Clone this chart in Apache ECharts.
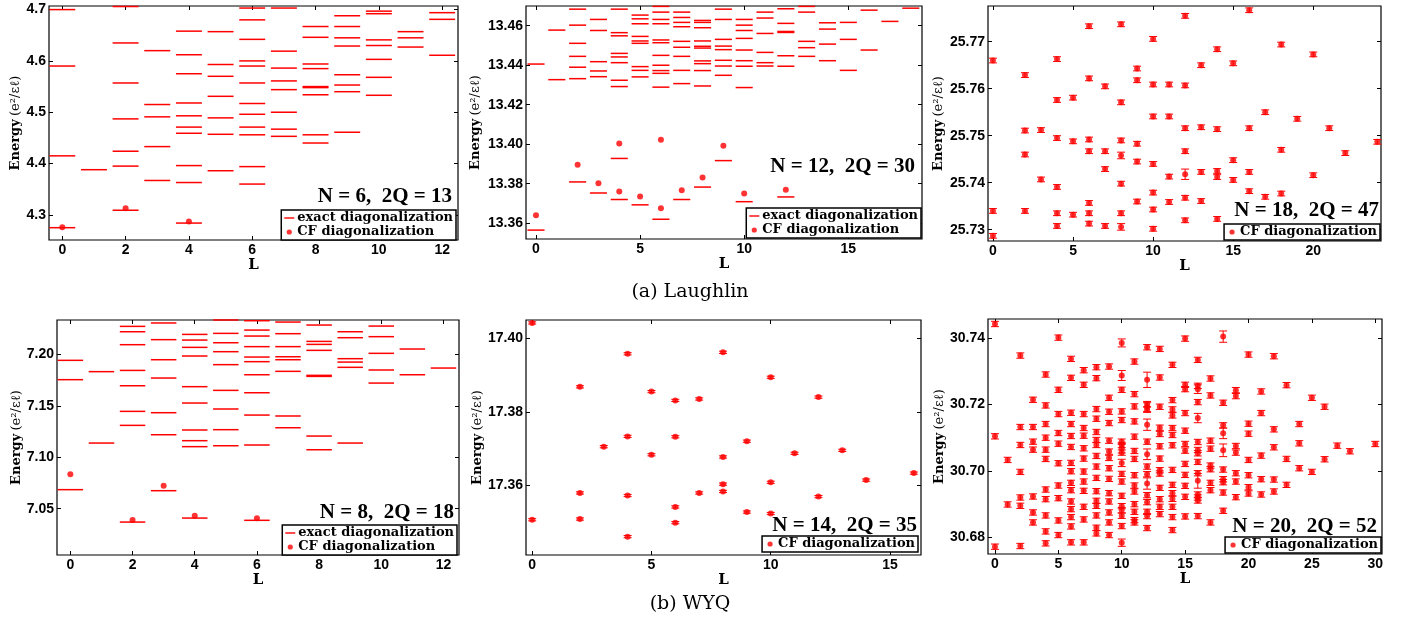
<!DOCTYPE html>
<html><head><meta charset="utf-8">
<script src="https://cdn.jsdelivr.net/npm/echarts@6/dist/echarts.min.js"></script>
<style>html,body{margin:0;padding:0;background:#fff}#c{width:1408px;height:620px}</style>
</head><body><div id="c"></div>
<script>
// ================= DATA =================
// (a) Laughlin, N = 6, 2Q = 13 — exact levels, one list per L = 0..12
const laughlinN6Exact = [
  [4.700, 4.590, 4.415, 4.275],
  [4.388],
  [4.706, 4.635, 4.557, 4.487, 4.424, 4.395, 4.309],
  [4.620, 4.515, 4.491, 4.433, 4.367],
  [4.658, 4.612, 4.575, 4.518, 4.493, 4.471, 4.459, 4.396, 4.363, 4.284],
  [4.657, 4.593, 4.570, 4.531, 4.489, 4.457, 4.386],
  [4.703, 4.680, 4.642, 4.600, 4.590, 4.557, 4.517, 4.496, 4.471, 4.456, 4.394, 4.360],
  [4.703, 4.619, 4.586, 4.561, 4.544, 4.500, 4.467, 4.453],
  [4.667, 4.646, 4.594, 4.585, 4.550, 4.548, 4.534, 4.456, 4.440],
  [4.688, 4.667, 4.645, 4.629, 4.573, 4.553, 4.540, 4.461],
  [4.697, 4.692, 4.641, 4.630, 4.603, 4.568, 4.533],
  [4.657, 4.645, 4.627],
  [4.694, 4.681, 4.611]
];
const laughlinN6CF = [[0, 4.276], [2, 4.313], [4, 4.287]];

// (a) Laughlin, N = 12, 2Q = 30 — exact levels per L = 0..18
const laughlinN12Exact = [
  [13.4406, 13.3565],
  [13.4578, 13.4327],
  [13.4684, 13.4603, 13.4511, 13.4445, 13.4390, 13.4332, 13.3809],
  [13.4632, 13.4576, 13.4418, 13.4371, 13.4342, 13.3753],
  [13.4684, 13.4565, 13.4549, 13.4460, 13.4442, 13.4413, 13.4324, 13.4292, 13.3928, 13.3720],
  [13.4654, 13.4635, 13.4610, 13.4546, 13.4523, 13.4511, 13.4393, 13.4374, 13.4341, 13.3693],
  [13.4698, 13.4669, 13.4632, 13.4610, 13.4528, 13.4514, 13.4450, 13.4400, 13.4373, 13.4359, 13.4289, 13.3620],
  [13.4669, 13.4642, 13.4617, 13.4595, 13.4521, 13.4491, 13.4445, 13.4374, 13.4307, 13.3720],
  [13.4627, 13.4617, 13.4590, 13.4523, 13.4496, 13.4487, 13.4422, 13.4408, 13.4373, 13.4295, 13.3783],
  [13.4684, 13.4632, 13.4531, 13.4497, 13.4479, 13.4425, 13.4396, 13.4349, 13.3917],
  [13.4632, 13.4603, 13.4576, 13.4536, 13.4477, 13.4423, 13.4395, 13.4287, 13.3709],
  [13.4669, 13.4639, 13.4561, 13.4465, 13.4413, 13.4396],
  [13.4686, 13.4612, 13.4571, 13.4566, 13.4448, 13.4395, 13.3733],
  [13.4698, 13.4669, 13.4521, 13.4489, 13.4445],
  [13.4615, 13.4583, 13.4507, 13.4423],
  [13.4617, 13.4531, 13.4374],
  [13.4679, 13.4477],
  [13.4622],
  [13.4689]
];
const laughlinN12CF = [[0, 13.3640], [2, 13.3896], [3, 13.3802], [4, 13.4004], [4, 13.3760],
  [5, 13.3735], [6, 13.4023], [6, 13.3676], [7, 13.3767], [8, 13.3832], [9, 13.3992],
  [10, 13.3750], [12, 13.3770]];

// (a) Laughlin, N = 18, 2Q = 47 — CF energies grouped by L
const laughlinN18CF = [
  [0, [25.7660, 25.7340, 25.7287]],
  [2, [25.7629, 25.7511, 25.7460, 25.7340]],
  [3, [25.7512, 25.7407]],
  [4, [25.7663, 25.7576, 25.7495, 25.7391, 25.7335, 25.7308]],
  [5, [25.7581, 25.7488, 25.7332]],
  [6, [25.7733, 25.7622, 25.7492, 25.7467, 25.7357, 25.7335, 25.7313]],
  [7, [25.7605, 25.7467, 25.7429, 25.7308]],
  [8, [25.7737, 25.7571, 25.7490, 25.7458, 25.7398, 25.7335, 25.7306]],
  [9, [25.7643, 25.7618, 25.7483, 25.7445, 25.7360]],
  [10, [25.7706, 25.7609, 25.7541, 25.7440, 25.7379, 25.7343, 25.7302]],
  [11, [25.7609, 25.7541, 25.7413, 25.7359]],
  [12, [25.7755, 25.7607, 25.7516, 25.7467, 25.7418, 25.7368, 25.7320]],
  [13, [25.7650, 25.7518, 25.7423, 25.7361]],
  [14, [25.7684, 25.7514, 25.7425, 25.7412, 25.7323]],
  [15, [25.7654, 25.7448, 25.7406]],
  [16, [25.7767, 25.7516, 25.7423, 25.7382]],
  [17, [25.7550, 25.7370]],
  [18, [25.7694, 25.7470, 25.7377]],
  [19, [25.7536]],
  [20, [25.7673, 25.7416]],
  [21, [25.7516]],
  [22, [25.7463]],
  [24, [25.7487]]
];
const laughlinN18Err = 0.0005;
const laughlinN18BigErr = [[8, 25.7458, 0.0007], [8, 25.7306, 0.0007], [12, 25.7418, 0.0011]];

// (b) WYQ, N = 8, 2Q = 18 — exact levels per L = 0..12
const wyqN8Exact = [
  [7.1942, 7.1754, 7.0685],
  [7.1832, 7.1138],
  [7.2272, 7.2220, 7.2094, 7.1844, 7.1695, 7.1446, 7.1310, 7.0370],
  [7.2305, 7.2143, 7.1948, 7.1770, 7.1433, 7.1219, 7.0675],
  [7.2194, 7.2139, 7.2068, 7.1984, 7.1686, 7.1527, 7.1265, 7.1161, 7.1103, 7.0409],
  [7.2334, 7.2204, 7.2113, 7.2026, 7.1900, 7.1650, 7.1469, 7.1268, 7.1112],
  [7.2327, 7.2236, 7.2178, 7.2075, 7.1974, 7.1929, 7.1802, 7.1627, 7.1410, 7.1119, 7.0387],
  [7.2314, 7.2201, 7.2075, 7.1977, 7.1948, 7.1835, 7.1401, 7.1287],
  [7.2285, 7.2126, 7.2097, 7.2039, 7.1796, 7.1786, 7.1206, 7.1073],
  [7.2220, 7.2162, 7.1958, 7.1925, 7.1874, 7.1138],
  [7.2275, 7.2172, 7.2010, 7.1848, 7.1721],
  [7.2052, 7.1802],
  [7.1867]
];
const wyqN8CF = [[0, 7.0834], [2, 7.0390], [3, 7.0724], [4, 7.0432], [6, 7.0406]];

// (b) WYQ, N = 14, 2Q = 35 — CF energies grouped by L
const wyqN14CF = [
  [0, [17.4042, 17.3506]],
  [2, [17.3868, 17.3579, 17.3508]],
  [3, [17.3705]],
  [4, [17.3958, 17.3733, 17.3572, 17.3460]],
  [5, [17.3855, 17.3683]],
  [6, [17.3831, 17.3732, 17.3541, 17.3498]],
  [7, [17.3835, 17.3579]],
  [8, [17.3962, 17.3677, 17.3603, 17.3583]],
  [9, [17.3720, 17.3527]],
  [10, [17.3894, 17.3608, 17.3523]],
  [11, [17.3687]],
  [12, [17.3840, 17.3569]],
  [13, [17.3695]],
  [14, [17.3614]],
  [16, [17.3633]]
];
const wyqN14Err = 0.0003;
const wyqN14BigErr = [];

// (b) WYQ, N = 20, 2Q = 52 — CF energies grouped by L
const wyqN20CF = [
  [0, [30.7442, 30.7104, 30.6772]],
  [1, [30.7033, 30.6899]],
  [2, [30.7347, 30.7132, 30.7078, 30.6997, 30.6920, 30.6895, 30.6774]],
  [3, [30.7214, 30.7132, 30.7088, 30.7064, 30.6923, 30.6875, 30.6845]],
  [4, [30.7290, 30.7197, 30.7141, 30.7100, 30.7064, 30.7036, 30.6944, 30.6915, 30.6866, 30.6818, 30.6782]],
  [5, [30.7401, 30.7244, 30.7171, 30.7114, 30.7082, 30.7023, 30.6956, 30.6918, 30.6851, 30.6807]],
  [6, [30.7337, 30.7280, 30.7175, 30.7141, 30.7105, 30.7072, 30.7024, 30.6999, 30.6964, 30.6942, 30.6908, 30.6885, 30.6861, 30.6833, 30.6785]],
  [7, [30.7303, 30.7259, 30.7171, 30.7129, 30.7106, 30.7068, 30.7037, 30.6998, 30.6968, 30.6940, 30.6892, 30.6854, 30.6785]],
  [8, [30.7312, 30.7279, 30.7186, 30.7157, 30.7117, 30.7093, 30.7078, 30.7045, 30.7013, 30.6979, 30.6939, 30.6910, 30.6895, 30.6866, 30.6829, 30.6812]],
  [9, [30.7314, 30.7220, 30.7178, 30.7144, 30.7091, 30.7058, 30.7039, 30.7008, 30.6976, 30.6933, 30.6908, 30.6875, 30.6845, 30.6807]],
  [10, [30.7385, 30.7287, 30.7244, 30.7179, 30.7153, 30.7088, 30.7078, 30.7068, 30.7055, 30.7024, 30.6991, 30.6968, 30.6925, 30.6894, 30.6882, 30.6865, 30.6834, 30.6784]],
  [11, [30.7329, 30.7231, 30.7194, 30.7149, 30.7103, 30.7060, 30.7036, 30.6987, 30.6956, 30.6938, 30.6900, 30.6877, 30.6852, 30.6845]],
  [12, [30.7372, 30.7274, 30.7201, 30.7192, 30.7184, 30.7139, 30.7088, 30.7050, 30.7013, 30.6990, 30.6962, 30.6927, 30.6906, 30.6877, 30.6864, 30.6828]],
  [13, [30.7367, 30.7281, 30.7193, 30.7130, 30.7111, 30.7074, 30.7037, 30.7002, 30.6992, 30.6949, 30.6915, 30.6892, 30.6870]],
  [14, [30.7319, 30.7213, 30.7185, 30.7167, 30.7129, 30.7108, 30.7077, 30.7003, 30.6958, 30.6933, 30.6916, 30.6892, 30.6861, 30.6822]],
  [15, [30.7398, 30.7259, 30.7246, 30.7174, 30.7121, 30.7081, 30.7061, 30.7021, 30.6988, 30.6955, 30.6922, 30.6863]],
  [16, [30.7334, 30.7256, 30.7246, 30.7207, 30.7159, 30.7087, 30.7063, 30.7053, 30.7027, 30.6993, 30.6970, 30.6929, 30.6920, 30.6911, 30.6864]],
  [17, [30.7278, 30.7227, 30.7091, 30.7067, 30.7016, 30.7005, 30.6964, 30.6942, 30.6845]],
  [18, [30.7404, 30.7205, 30.7137, 30.7113, 30.7062, 30.7004, 30.6975, 30.6966, 30.6935, 30.6880]],
  [19, [30.7243, 30.7225, 30.7075, 30.7055, 30.6993, 30.6968, 30.6921]],
  [20, [30.7350, 30.7142, 30.7112, 30.7033, 30.6987, 30.6951, 30.6932]],
  [21, [30.7239, 30.7174, 30.7046, 30.6975, 30.6929]],
  [22, [30.7345, 30.7125, 30.7071, 30.6974, 30.6938]],
  [23, [30.7258, 30.7036, 30.6958]],
  [24, [30.7141, 30.7083, 30.7008]],
  [25, [30.7220, 30.6997]],
  [26, [30.7193, 30.7035]],
  [27, [30.7076]],
  [28, [30.7059]],
  [30, [30.7081]]
];
const wyqN20Err = 0.0008;
const wyqN20BigErr = [
  [10, 30.7385, 0.0012], [10, 30.7287, 0.0015], [10, 30.7068, 0.0014], [10, 30.7024, 0.0011], [10, 30.6784, 0.0011],
  [12, 30.7274, 0.0023], [12, 30.7192, 0.0013], [12, 30.7139, 0.0017], [12, 30.7050, 0.0016], [12, 30.6962, 0.0017],
  [16, 30.7246, 0.0013], [16, 30.7159, 0.0014], [16, 30.6970, 0.0022],
  [18, 30.7404, 0.0017], [18, 30.7113, 0.0016], [18, 30.7062, 0.0019]
];

// tick labels
const p1XTicks = ['0', '2', '4', '6', '8', '10', '12'];
const p1YTicks = ['4.3', '4.4', '4.5', '4.6', '4.7'];
const p2XTicks = ['0', '5', '10', '15'];
const p2YTicks = ['13.36', '13.38', '13.40', '13.42', '13.44', '13.46'];
const p3XTicks = ['0', '5', '10', '15', '20'];
const p3YTicks = ['25.73', '25.74', '25.75', '25.76', '25.77'];
const p4XTicks = ['0', '2', '4', '6', '8', '10', '12'];
const p4YTicks = ['7.05', '7.10', '7.15', '7.20'];
const p5XTicks = ['0', '5', '10', '15'];
const p5YTicks = ['17.36', '17.38', '17.40'];
const p6XTicks = ['0', '5', '10', '15', '20', '25', '30'];
const p6YTicks = ['30.68', '30.70', '30.72', '30.74'];

const panelLabels = ['N = 6,  2Q = 13', 'N = 12,  2Q = 30', 'N = 18,  2Q = 47',
                     'N = 8,  2Q = 18', 'N = 14,  2Q = 35', 'N = 20,  2Q = 52'];
const captions = ['(a) Laughlin', '(b) WYQ'];
const NAME_EXACT = 'exact diagonalization';
const NAME_CF = 'CF diagonalization';

// ================= BUILD =================
function flattenLevels(levels) { const out = []; levels.forEach((es, L) => es.forEach(e => out.push([L, e]))); return out; }
function flattenGroups(groups) { const out = []; groups.forEach(([L, es]) => es.forEach(e => out.push([L, e]))); return out; }
function withErrors(points, defErr, big) {
  return points.map(([L, e]) => {
    const b = big.find(q => q[0] === L && Math.abs(q[1] - e) < 1e-7);
    return [L, e, b ? b[2] : defErr];
  });
}

const panels = [
  { exact: flattenLevels(laughlinN6Exact), cf: laughlinN6CF, xt: p1XTicks, yt: p1YTicks },
  { exact: flattenLevels(laughlinN12Exact), cf: laughlinN12CF, xt: p2XTicks, yt: p2YTicks },
  { cf: flattenGroups(laughlinN18CF), err: withErrors(flattenGroups(laughlinN18CF), laughlinN18Err, laughlinN18BigErr), xt: p3XTicks, yt: p3YTicks },
  { exact: flattenLevels(wyqN8Exact), cf: wyqN8CF, xt: p4XTicks, yt: p4YTicks },
  { cf: flattenGroups(wyqN14CF), err: withErrors(flattenGroups(wyqN14CF), wyqN14Err, wyqN14BigErr), xt: p5XTicks, yt: p5YTicks },
  { cf: flattenGroups(wyqN20CF), err: withErrors(flattenGroups(wyqN20CF), wyqN20Err, wyqN20BigErr), xt: p6XTicks, yt: p6YTicks }
];

// layout (pixels / axis extents)
const layout = [
  { grid: { left: 49, top: 6, width: 409, height: 234 }, x: [-0.42, 12.5], y: [4.251, 4.707], yGap: 27, note: [452, 197], legendRight: 952, legendTop: 210 },
  { grid: { left: 526, top: 6, width: 396, height: 233 }, x: [-0.48, 18.54], y: [13.352, 13.470], yGap: 44, note: [915, 167], legendRight: 487, legendTop: 208 },
  { grid: { left: 988, top: 6, width: 393, height: 235 }, x: [-0.31, 24.23], y: [25.7276, 25.7776], yGap: 43, note: [1379, 211], legendRight: 28, legendTop: 224 },
  { grid: { left: 57, top: 320, width: 402, height: 235 }, x: [-0.43, 12.5], y: [7.005, 7.2334], yGap: 33, note: [454, 513], legendRight: 951, legendTop: 525 },
  { grid: { left: 526, top: 320, width: 395, height: 235 }, x: [-0.26, 16.3], y: [17.341, 17.405], yGap: 41, note: [917, 526], legendRight: 490, legendTop: 536 },
  { grid: { left: 988, top: 319, width: 394, height: 235 }, x: [-0.55, 30.53], y: [30.675, 30.7457], yGap: 41, note: [1377, 527], legendRight: 27, legendTop: 537 }
];

const RED = '#ff0000';
const LEVEL_HALF = 0.41;   // half width of a level bar in L units
const CAP_HALF = 4;        // px
const TICK_FONT = { color: '#000', fontFamily: 'Liberation Sans', fontWeight: 'bold', fontSize: 14 };
const ICON_LINE = 'path://M0,0M0,4.3L10,4.3L10,5.7L0,5.7ZM10,10';
const ICON_DOT = 'path://M0,0M10,10M7.6,5A2.6,2.6,0,1,1,2.4,5A2.6,2.6,0,1,1,7.6,5Z';

function renderLevel(params, api) {
  const L = api.value(0), E = api.value(1);
  const a = api.coord([L - LEVEL_HALF, E]);
  const b = api.coord([L + LEVEL_HALF, E]);
  return { type: 'line', shape: { x1: a[0], y1: a[1], x2: b[0], y2: b[1] }, style: { stroke: RED, lineWidth: 1.5 } };
}
function renderErr(params, api) {
  const L = api.value(0), E = api.value(1), d = api.value(2);
  const t = api.coord([L, E + d]), b = api.coord([L, E - d]);
  const st = { stroke: RED, lineWidth: 1 };
  return { type: 'group', children: [
    { type: 'line', shape: { x1: t[0], y1: t[1], x2: b[0], y2: b[1] }, style: st },
    { type: 'line', shape: { x1: t[0] - CAP_HALF, y1: t[1], x2: t[0] + CAP_HALF, y2: t[1] }, style: st },
    { type: 'line', shape: { x1: b[0] - CAP_HALF, y1: b[1], x2: b[0] + CAP_HALF, y2: b[1] }, style: st }
  ] };
}
function lookupFmt(labels) {
  const vals = labels.map(parseFloat);
  return v => { const i = vals.findIndex(t => Math.abs(t - v) < 1e-9); return i >= 0 ? labels[i] : ''; };
}

const grids = [], xAxes = [], yAxes = [], series = [], legends = [], graphics = [];
panels.forEach((p, i) => {
  const lo = layout[i];
  grids.push(Object.assign({ show: true, borderColor: '#000', borderWidth: 1.2, backgroundColor: 'transparent' }, lo.grid));
  const xv = p.xt.map(parseFloat), yv = p.yt.map(parseFloat);
  const common = { type: 'value', gridIndex: i, splitLine: { show: false }, axisLine: { show: false, onZero: false } };
  xAxes.push(Object.assign({}, common, {
    min: lo.x[0], max: lo.x[1], position: 'bottom',
    axisTick: { inside: true, length: 4, customValues: xv, lineStyle: { color: '#000' } },
    axisLabel: Object.assign({ customValues: xv, formatter: lookupFmt(p.xt), margin: 3 }, TICK_FONT),
    name: 'L', nameLocation: 'middle', nameGap: 16,
    nameTextStyle: { color: '#000', fontFamily: 'DejaVu Serif', fontWeight: 'bold', fontSize: 15 }
  }));
  xAxes.push(Object.assign({}, common, {
    min: lo.x[0], max: lo.x[1], position: 'top',
    axisTick: { inside: true, length: 4, customValues: xv, lineStyle: { color: '#000' } },
    axisLabel: { show: false }
  }));
  yAxes.push(Object.assign({}, common, {
    min: lo.y[0], max: lo.y[1], position: 'left',
    axisTick: { inside: true, length: 4, customValues: yv, lineStyle: { color: '#000' } },
    axisLabel: Object.assign({ customValues: yv, formatter: lookupFmt(p.yt), margin: 3 }, TICK_FONT),
    name: '{b|Energy} {n|(e²/εℓ)}', nameLocation: 'middle', nameGap: lo.yGap,
    nameTextStyle: { color: '#000', rich: {
      b: { fontFamily: 'DejaVu Serif', fontWeight: 'bold', fontSize: 13, color: '#000' },
      n: { fontFamily: 'DejaVu Serif', fontSize: 13, color: '#000' } } }
  }));
  yAxes.push(Object.assign({}, common, {
    min: lo.y[0], max: lo.y[1], position: 'right',
    axisTick: { inside: true, length: 4, customValues: yv, lineStyle: { color: '#000' } },
    axisLabel: { show: false }
  }));
  const xi = 2 * i, yi = 2 * i;
  const legendData = [];
  if (p.exact) {
    series.push({ type: 'custom', name: NAME_EXACT, xAxisIndex: xi, yAxisIndex: yi, data: p.exact,
      renderItem: renderLevel, encode: { x: 0, y: 1 }, itemStyle: { color: RED }, z: 2 });
    legendData.push({ name: NAME_EXACT, icon: ICON_LINE });
  }
  if (p.err) {
    series.push({ type: 'custom', name: 'errorbars ' + i, xAxisIndex: xi, yAxisIndex: yi, data: p.err,
      renderItem: renderErr, encode: { x: 0, y: 1 }, itemStyle: { color: RED }, z: 2 });
  }
  series.push({ type: 'scatter', name: NAME_CF, xAxisIndex: xi, yAxisIndex: yi, data: p.cf,
    symbol: 'circle', symbolSize: 6, itemStyle: { color: RED }, z: 3 });
  legendData.push({ name: NAME_CF, icon: ICON_DOT });
  legends.push({
    orient: 'vertical', right: lo.legendRight, top: lo.legendTop, data: legendData,
    itemWidth: 10, itemHeight: 10, itemGap: 0, padding: [1, 3, 1, 3],
    borderColor: '#000', borderWidth: 1.5, backgroundColor: '#fff', selectedMode: false,
    itemStyle: { color: RED, borderWidth: 0 },
    textStyle: { color: '#000', fontFamily: 'DejaVu Serif', fontWeight: 'bold', fontSize: 13, lineHeight: 14, padding: [0, 0, 0, -2] }
  });
  graphics.push({ type: 'text', x: lo.note[0], y: lo.note[1], z: 10,
    style: { text: panelLabels[i], align: 'right', verticalAlign: 'middle', fill: '#000',
             font: 'bold 21px "Liberation Serif"' } });
});
graphics.push({ type: 'text', x: 690, y: 292, style: { text: captions[0], align: 'center', verticalAlign: 'middle', fill: '#000', font: '19px "DejaVu Serif"' } });
graphics.push({ type: 'text', x: 690, y: 604, style: { text: captions[1], align: 'center', verticalAlign: 'middle', fill: '#000', font: '19px "DejaVu Serif"' } });

const chart = echarts.init(document.getElementById('c'), null, { renderer: 'canvas' });
chart.setOption({
  animation: false,
  backgroundColor: '#fff',
  grid: grids, xAxis: xAxes, yAxis: yAxes, series: series, legend: legends, graphic: graphics
});
</script></body></html>
